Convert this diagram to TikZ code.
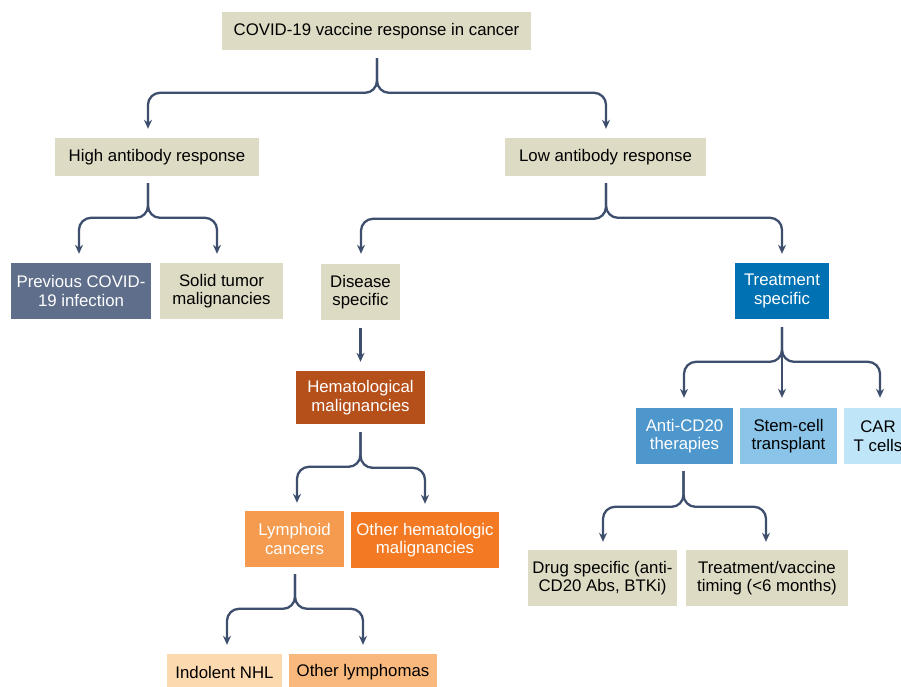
\documentclass[tikz,border=0pt]{standalone}
\usepackage{fontspec}
\setmainfont{Liberation Sans}
\usetikzlibrary{arrows.meta,calc}
\definecolor{beige}{HTML}{DDDBC3}
\definecolor{slate}{HTML}{5E6E8B}
\definecolor{tblue}{HTML}{0071B2}
\definecolor{hemc}{HTML}{B5501B}
\definecolor{lymc}{HTML}{F59B50}
\definecolor{othc}{HTML}{F37A23}
\definecolor{indc}{HTML}{FDD9B0}
\definecolor{olyc}{HTML}{F9B97C}
\definecolor{antic}{HTML}{4D97CC}
\definecolor{stemc}{HTML}{8AC4E8}
\definecolor{carc}{HTML}{BEE5F8}
\definecolor{linec}{HTML}{3E4F6E}
\begin{document}
\begin{tikzpicture}[x=1pt,y=-1pt,
  box/.style={rectangle, inner sep=0pt, align=center, text=black,
    font=\fontsize{16.8}{18.5}\selectfont},
  wbox/.style={box, text=white},
  conn/.style={draw=linec, line width=2.3pt, rounded corners=12pt,
    -{Stealth[length=9pt,width=8pt]}},
]
\useasboundingbox (0,0) rectangle (901,686);
\clip (0,0) rectangle (901,686);
\fill[white] (0,0) rectangle (901,686);

% nodes
\node[box, fill=beige, minimum width=309pt, minimum height=38pt] (root) at (376.5,31) {COVID-19 vaccine response in cancer};
\node[box, fill=beige, minimum width=204pt, minimum height=38pt] (high) at (157,157) {High antibody response};
\node[box, fill=beige, minimum width=201pt, minimum height=38pt] (low) at (605.5,157) {Low antibody response};

\node[wbox, fill=slate, minimum width=140pt, minimum height=56pt] (prev) at (81,291) {Previous COVID-\\19 infection};
\node[box, fill=beige, minimum width=123pt, minimum height=56pt] (solid) at (221.5,291) {Solid tumor\\malignancies};
\node[box, fill=beige, minimum width=79pt, minimum height=56pt] (disease) at (360.5,292) {Disease\\specific};
\node[wbox, fill=tblue, minimum width=94pt, minimum height=56pt] (treat) at (782,291) {Treatment\\specific};

\node[wbox, fill=hemc, minimum width=129pt, minimum height=53pt] (hemat) at (360.5,397.5) {Hematological\\malignancies};

\node[wbox, fill=antic, minimum width=97pt, minimum height=56pt] (anti) at (684.5,436) {Anti-CD20\\therapies};
\node[box, fill=stemc, minimum width=97pt, minimum height=56pt] (stemcell) at (788.5,436) {Stem-cell\\transplant};
\node[box, fill=carc, minimum width=68pt, minimum height=56pt] (car) at (878,436) {CAR\\T cells};

\node[wbox, fill=lymc, minimum width=99pt, minimum height=56pt] (lymph) at (294.5,539) {Lymphoid\\cancers};
\node[wbox, fill=othc, minimum width=148pt, minimum height=56pt] (otherh) at (425,540) {Other hematologic\\malignancies};

\node[box, fill=beige, minimum width=149pt, minimum height=56pt] (drug) at (602.5,578) {Drug specific (anti-\\CD20 Abs, BTKi)};
\node[box, fill=beige, minimum width=162pt, minimum height=56pt] (timing) at (767,578) {Treatment/vaccine\\timing (<6 months)};

\node[box, fill=indc, minimum width=115pt, minimum height=36pt] (indolent) at (224.5,672) {Indolent NHL};
\node[box, fill=olyc, minimum width=148pt, minimum height=36pt] (otherl) at (363,672) {Other lymphomas};

% connectors
\draw[conn] ($(root.south)+(0.5,8)$) |- ($(high.north)+(-9,-45)$) -- ($(high.north)+(-9,-9)$);
\draw[conn] ($(root.south)+(0.5,8)$) |- ($(low.north)+(0.5,-45)$) -- ($(low.north)+(0.5,-9)$);

\draw[conn] ($(high.south)+(-9,7)$) |- ($(prev.north)+(-2,-45)$) -- ($(prev.north)+(-2,-9)$);
\draw[conn] ($(high.south)+(-9,7)$) |- ($(solid.north)+(-4.5,-45)$) -- ($(solid.north)+(-4.5,-9)$);

\draw[conn] ($(low.south)+(0.5,7)$) |- ($(disease.north)+(0.5,-45)$) -- ($(disease.north)+(0.5,-10)$);
\draw[conn] ($(low.south)+(0.5,7)$) |- ($(treat.north)+(0,-45)$) -- ($(treat.north)+(0,-9)$);

\draw[conn] ($(disease.south)+(0,8)$) -- ($(hemat.north)+(0,-9)$);

\draw[conn] ($(hemat.south)+(0,8)$) |- ($(lymph.north)+(2.5,-44)$) -- ($(lymph.north)+(2.5,-8)$);
\draw[conn] ($(hemat.south)+(0,8)$) |- ($(otherh.north)+(0,-44)$) -- ($(otherh.north)+(0,-8)$);

\draw[conn] ($(treat.south)+(0,8)$) |- ($(anti.north)+(-0.5,-46)$) -- ($(anti.north)+(-0.5,-10)$);
\draw[conn] ($(treat.south)+(0,8)$) -- ($(treat.south |- stemcell.north)+(0,-10)$);
\draw[conn] ($(treat.south)+(0,8)$) |- ($(car.north)+(2,-46)$) -- ($(car.north)+(2,-10)$);

\draw[conn] ($(anti.south)+(-1,7)$) |- ($(drug.north)+(0.5,-43)$) -- ($(drug.north)+(0.5,-8)$);
\draw[conn] ($(anti.south)+(-1,7)$) |- ($(timing.north)+(-1,-43)$) -- ($(timing.north)+(-1,-8)$);

\draw[conn] ($(lymph.south)+(0.5,7)$) |- ($(indolent.north)+(2.5,-45)$) -- ($(indolent.north)+(2.5,-9)$);
\draw[conn] ($(lymph.south)+(0.5,7)$) |- ($(otherl.north)+(0,-45)$) -- ($(otherl.north)+(0,-9)$);
\end{tikzpicture}
\end{document}
